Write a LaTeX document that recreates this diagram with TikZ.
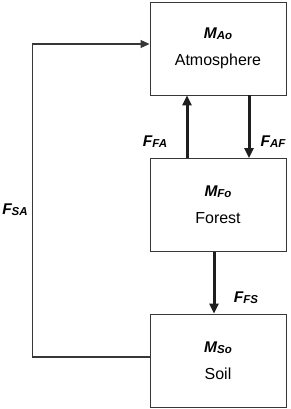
\documentclass[tikz,border=0pt]{standalone}
\usepackage{fontspec}
\setmainfont{Liberation Sans}
\usetikzlibrary{arrows.meta, positioning, calc}

\definecolor{boxgray}{RGB}{55, 55, 55}
\definecolor{flowblack}{RGB}{30, 30, 30}

% pool / flux symbols: big bold italic letter, small bold italic index
\newcommand{\poolsym}[2]{{\bfseries\itshape\fontsize{15.5}{15}\selectfont #1\raisebox{-0.15ex}{\fontsize{11.5}{11}\selectfont #2}}}

\tikzset{
  pool/.style={draw=boxgray, line width=0.9pt, minimum width=136pt, minimum height=93pt,
    inner sep=0pt, align=center, font=\fontsize{16}{16}\selectfont},
  flux/.style={-{Triangle[length=10pt, width=9pt]}, line width=3pt, flowblack},
  back/.style={-{Triangle[length=9pt, width=8pt]}, line width=1.1pt, boxgray},
  fluxlabel/.style={inner sep=0pt}
}

\begin{document}
\begin{tikzpicture}[x=1pt, y=-1pt]
  \useasboundingbox (0,0) rectangle (290,409);

  % carbon pools
  \node[pool] (atm) at (218, 48.5) {\poolsym{M}{Ao}\\[11pt]Atmosphere};
  \node[pool] (forest) at (218, 205) {\poolsym{M}{Fo}\\[11pt]Forest};
  \node[pool] (soil) at (218, 360.5) {\poolsym{M}{So}\\[11pt]Soil};

  % fluxes between pools
  \draw[flux] ([xshift=-31pt]forest.north) -- ([xshift=-31pt]atm.south);
  \draw[flux] ([xshift=31pt]atm.south) -- ([xshift=31pt]forest.north);
  \draw[flux] ([xshift=-4pt]forest.south) -- ([xshift=-4pt]soil.north);

  % soil back to atmosphere
  \draw[back] ([yshift=3.5pt]soil.west) -| ([xshift=-117pt, yshift=4.5pt]atm.west)
    -- ([yshift=4.5pt]atm.west);

  % flux labels
  \node[fluxlabel] (ffa) at (155, 142) {\poolsym{F}{FA}};
  \node[fluxlabel] (faf) at (273, 142) {\poolsym{F}{AF}};
  \node[fluxlabel] (ffs) at (246, 298) {\poolsym{F}{FS}};
  \node[fluxlabel] (fsa) at (15, 210) {\poolsym{F}{SA}};
\end{tikzpicture}
\end{document}
